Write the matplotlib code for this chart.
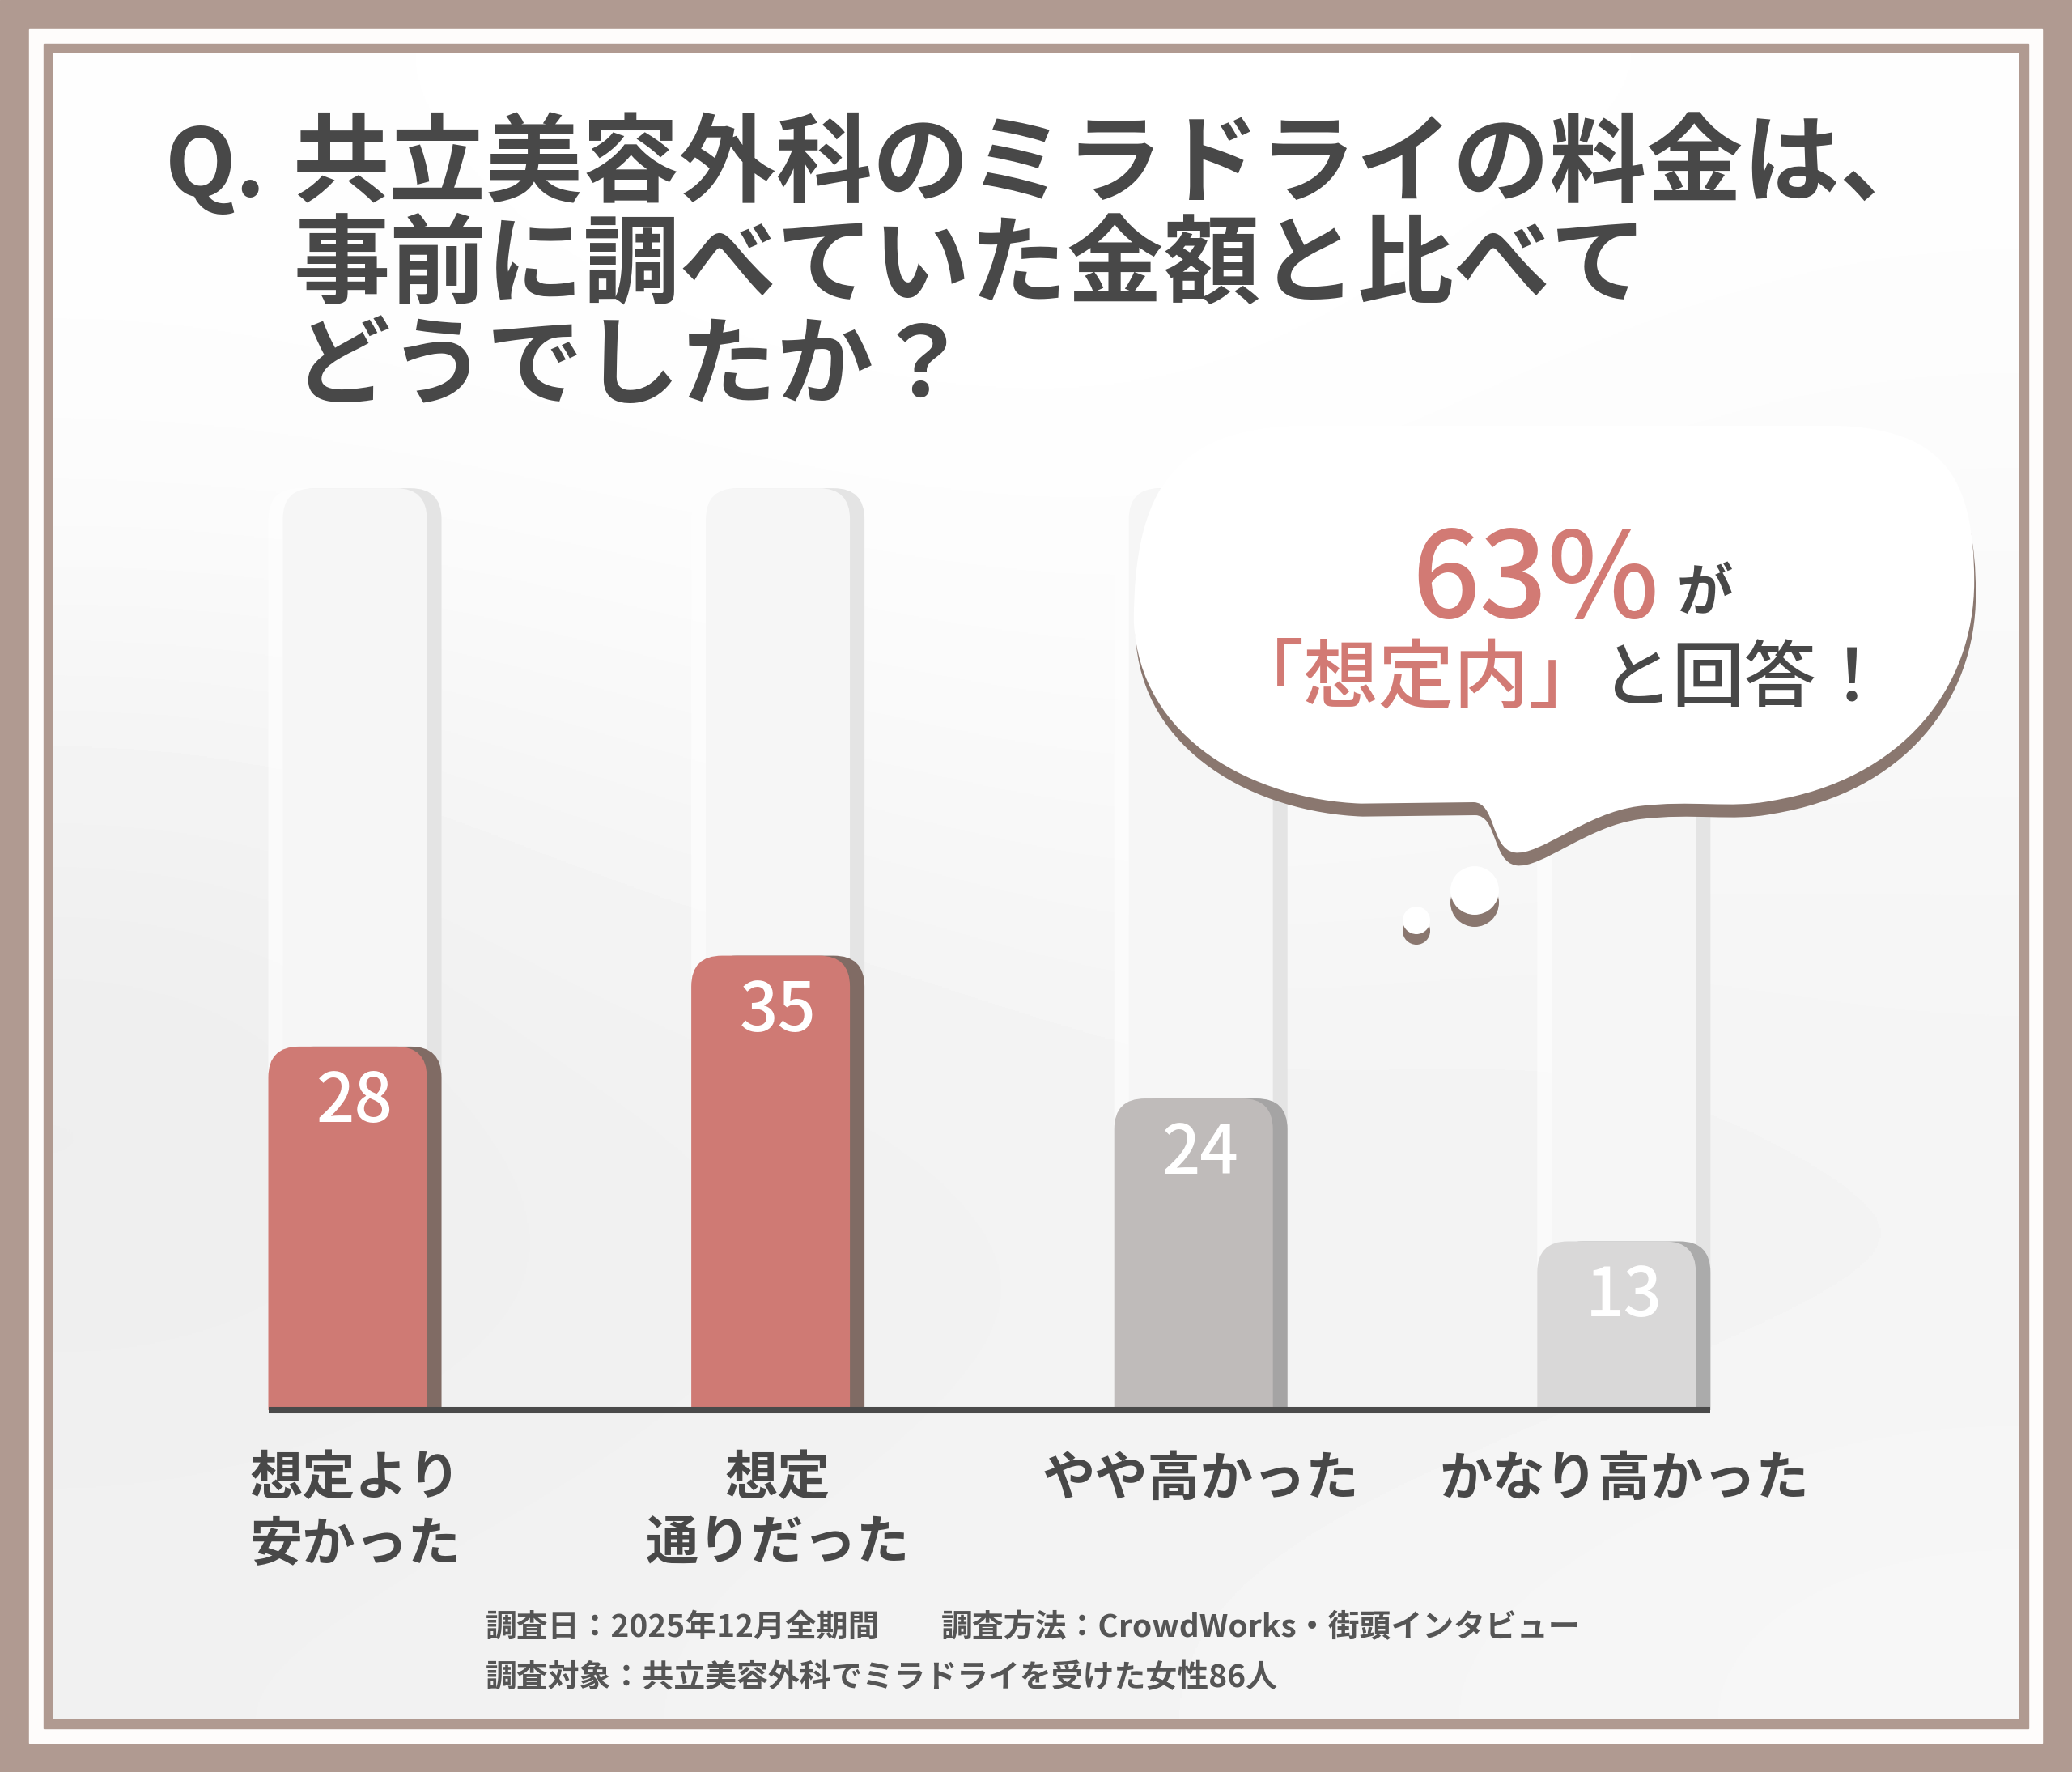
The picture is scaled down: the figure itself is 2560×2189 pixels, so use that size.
import numpy as np
import matplotlib.pyplot as plt
from matplotlib.patches import FancyBboxPatch, Rectangle, Circle, PathPatch
from matplotlib.path import Path

plt.rcParams['font.family'] = ['Noto Sans CJK JP', 'DejaVu Sans']

# data
categories = ['想定より\n安かった', '想定\n通りだった', 'やや高かった', 'かなり高かった']
values = [28, 35, 24, 13]
track_top = 71
bar_colors = ['#cf7a74', '#cf7a74', '#bfbbba', '#d9d8d8']
shadow_colors = ['#806b64', '#806b64', '#a5a4a4', '#ababab']

title_lines = ['共立美容外科のミラドライの料金は、', '事前に調べていた金額と比べて', 'どうでしたか？']
note_date = '調査日：2025年12月全期間'
note_method = '調査方法：CrowdWorks・街頭インタビュー'
note_target = '調査対象：共立美容外科でミラドライを受けた女性86人'

W, H = 2560, 2189
brown = '#b09a91'
dark = '#484848'
red = '#d27a74'

fig = plt.figure(figsize=(W / 100, H / 100), dpi=100)

# background + frame
bg = fig.add_axes([0, 0, 1, 1])
bg.add_patch(Rectangle((0, 0), W, H, color=brown, zorder=1))
bg.add_patch(Rectangle((36, 36), 2523 - 36, 2153 - 36, color='#fefcfb', zorder=1))
bg.add_patch(Rectangle((54, 54), 2506 - 54, 2135 - 54, color=brown, zorder=1))
shade = np.array([
    [0.995, 0.997, 1.0, 1.0, 0.997, 0.995],
    [0.99, 0.993, 0.996, 0.996, 0.99, 0.985],
    [0.955, 0.965, 0.975, 0.98, 0.975, 0.97],
    [0.93, 0.945, 0.95, 0.958, 0.955, 0.96],
    [0.935, 0.94, 0.945, 0.95, 0.952, 0.955],
    [0.945, 0.948, 0.952, 0.958, 0.962, 0.968],
])
bg.imshow(shade, extent=(65, 2495, 2124, 65), cmap='gray', vmin=0, vmax=1,
          aspect='auto', interpolation='bicubic', zorder=2)
bg.set_xlim(0, W)
bg.set_ylim(H, 0)
bg.axis('off')

# bar chart axes
px_x = 522.6   # pixels per category step
px_y = 16.04   # pixels per unit
x_first = 429.5
base_px = 447
ymax = 75
ax = fig.add_axes([(x_first - 0.5 * px_x) / W, base_px / H, 4 * px_x / W, ymax * px_y / H])
ax.set_xlim(-0.5, 3.5)
ax.set_ylim(0, ymax)
ax.patch.set_alpha(0)
for sp in ax.spines.values():
    sp.set_visible(False)
ax.set_yticks([])

bw = 196 / px_x
sh = 18 / px_x
rx = 38 / px_x
ry = 38 / px_y
xpos = np.arange(len(values))


def rounded(x0, h, color, z, alpha=1.0):
    p = FancyBboxPatch((x0, -ry), bw, h + ry,
                       boxstyle=f'round,pad=0,rounding_size={rx}',
                       mutation_aspect=ry / rx, fc=color, ec='none',
                       zorder=z, alpha=alpha)
    ax.add_patch(p)


bars = ax.bar(xpos, values, width=bw)
for i, b in enumerate(bars):
    x0, h = b.get_x(), b.get_height()
    b.remove()
    # white background track
    rounded(x0 + sh, track_top, '#e4e4e4', 1)
    rounded(x0, track_top, '#fefefe', 1.1, alpha=0.7)
    # bar with shadow
    rounded(x0 + sh, h, shadow_colors[i], 2)
    rounded(x0, h, bar_colors[i], 3)
    ax.annotate(str(values[i]), (xpos[i] + sh / 2, h), xytext=(0, -50),
                textcoords='offset points', ha='center', va='center',
                color='white', fontsize=60, fontweight='medium', zorder=4)

ax.plot([-bw / 2, xpos[-1] + bw / 2 + sh], [0, 0], color='#4a4a4a', lw=5.8,
        solid_capstyle='butt', clip_on=False, zorder=5)

ax.set_xticks(xpos + sh / 2)
ax.set_xticklabels(categories, fontsize=47, color=dark, fontweight='bold',
                   linespacing=1.25)
ax.tick_params(axis='x', length=0, pad=37)

# overlay: title, bubble, notes
ov = fig.add_axes([0, 0, 1, 1], zorder=3)
ov.set_xlim(0, W)
ov.set_ylim(H, 0)
ov.axis('off')

ov.text(204, 242, 'Q.', fontsize=82, fontweight='bold', color=dark, va='baseline')
for i, line in enumerate(title_lines):
    ov.text(362, 240 + 125 * i, line, fontsize=86, fontweight='bold',
            color=dark, va='baseline')

k = W / 1568
verts = [(858, 470),
         (862, 560), (950, 605), (1030, 608),
         (1115, 607),
         (1132, 607), (1128, 642), (1146, 645),
         (1165, 648), (1200, 615), (1240, 610),
         (1280, 605), (1310, 612), (1340, 606),
         (1440, 590), (1494, 520), (1494, 440),
         (1494, 360), (1470, 325), (1390, 322),
         (980, 322),
         (890, 325), (858, 370), (858, 470),
         (858, 470)]
codes = ([Path.MOVETO] + [Path.CURVE4] * 3 + [Path.LINETO] + [Path.CURVE4] * 15
         + [Path.LINETO] + [Path.CURVE4] * 3 + [Path.CLOSEPOLY])
v = np.array(verts, dtype=float) * k
ov.add_patch(PathPatch(Path(v + [2, 16], codes), fc='#8a776f', ec='none'))
ov.add_patch(PathPatch(Path(v, codes), fc='white', ec='none'))
ov.add_patch(Circle((1822, 1115), 30, fc='#8a776f', ec='none'))
ov.add_patch(Circle((1822, 1100), 30, fc='white', ec='none'))
ov.add_patch(Circle((1750, 1150), 17, fc='#8a776f', ec='none'))
ov.add_patch(Circle((1750, 1137), 17, fc='white', ec='none'))

ov.text(1897, 763, '63%', fontsize=106, fontweight='medium', color=red,
        ha='center', va='baseline')
ov.text(2072, 754, 'が', fontsize=50, fontweight='bold', color=dark, va='baseline')
ov.text(1750, 866, '「想定内」', fontsize=67, fontweight='medium', color=red,
        ha='center', va='baseline')
ov.text(1977, 866, 'と回答！', fontsize=64, fontweight='medium', color=dark,
        va='baseline')

ov.text(600, 2022, note_date, fontsize=28, fontweight='bold', color='#555555', va='baseline')
ov.text(1163, 2022, note_method, fontsize=28, fontweight='bold', color='#555555', va='baseline')
ov.text(600, 2084, note_target, fontsize=28, fontweight='bold', color='#555555', va='baseline')

fig.savefig('out.png', dpi=100)
